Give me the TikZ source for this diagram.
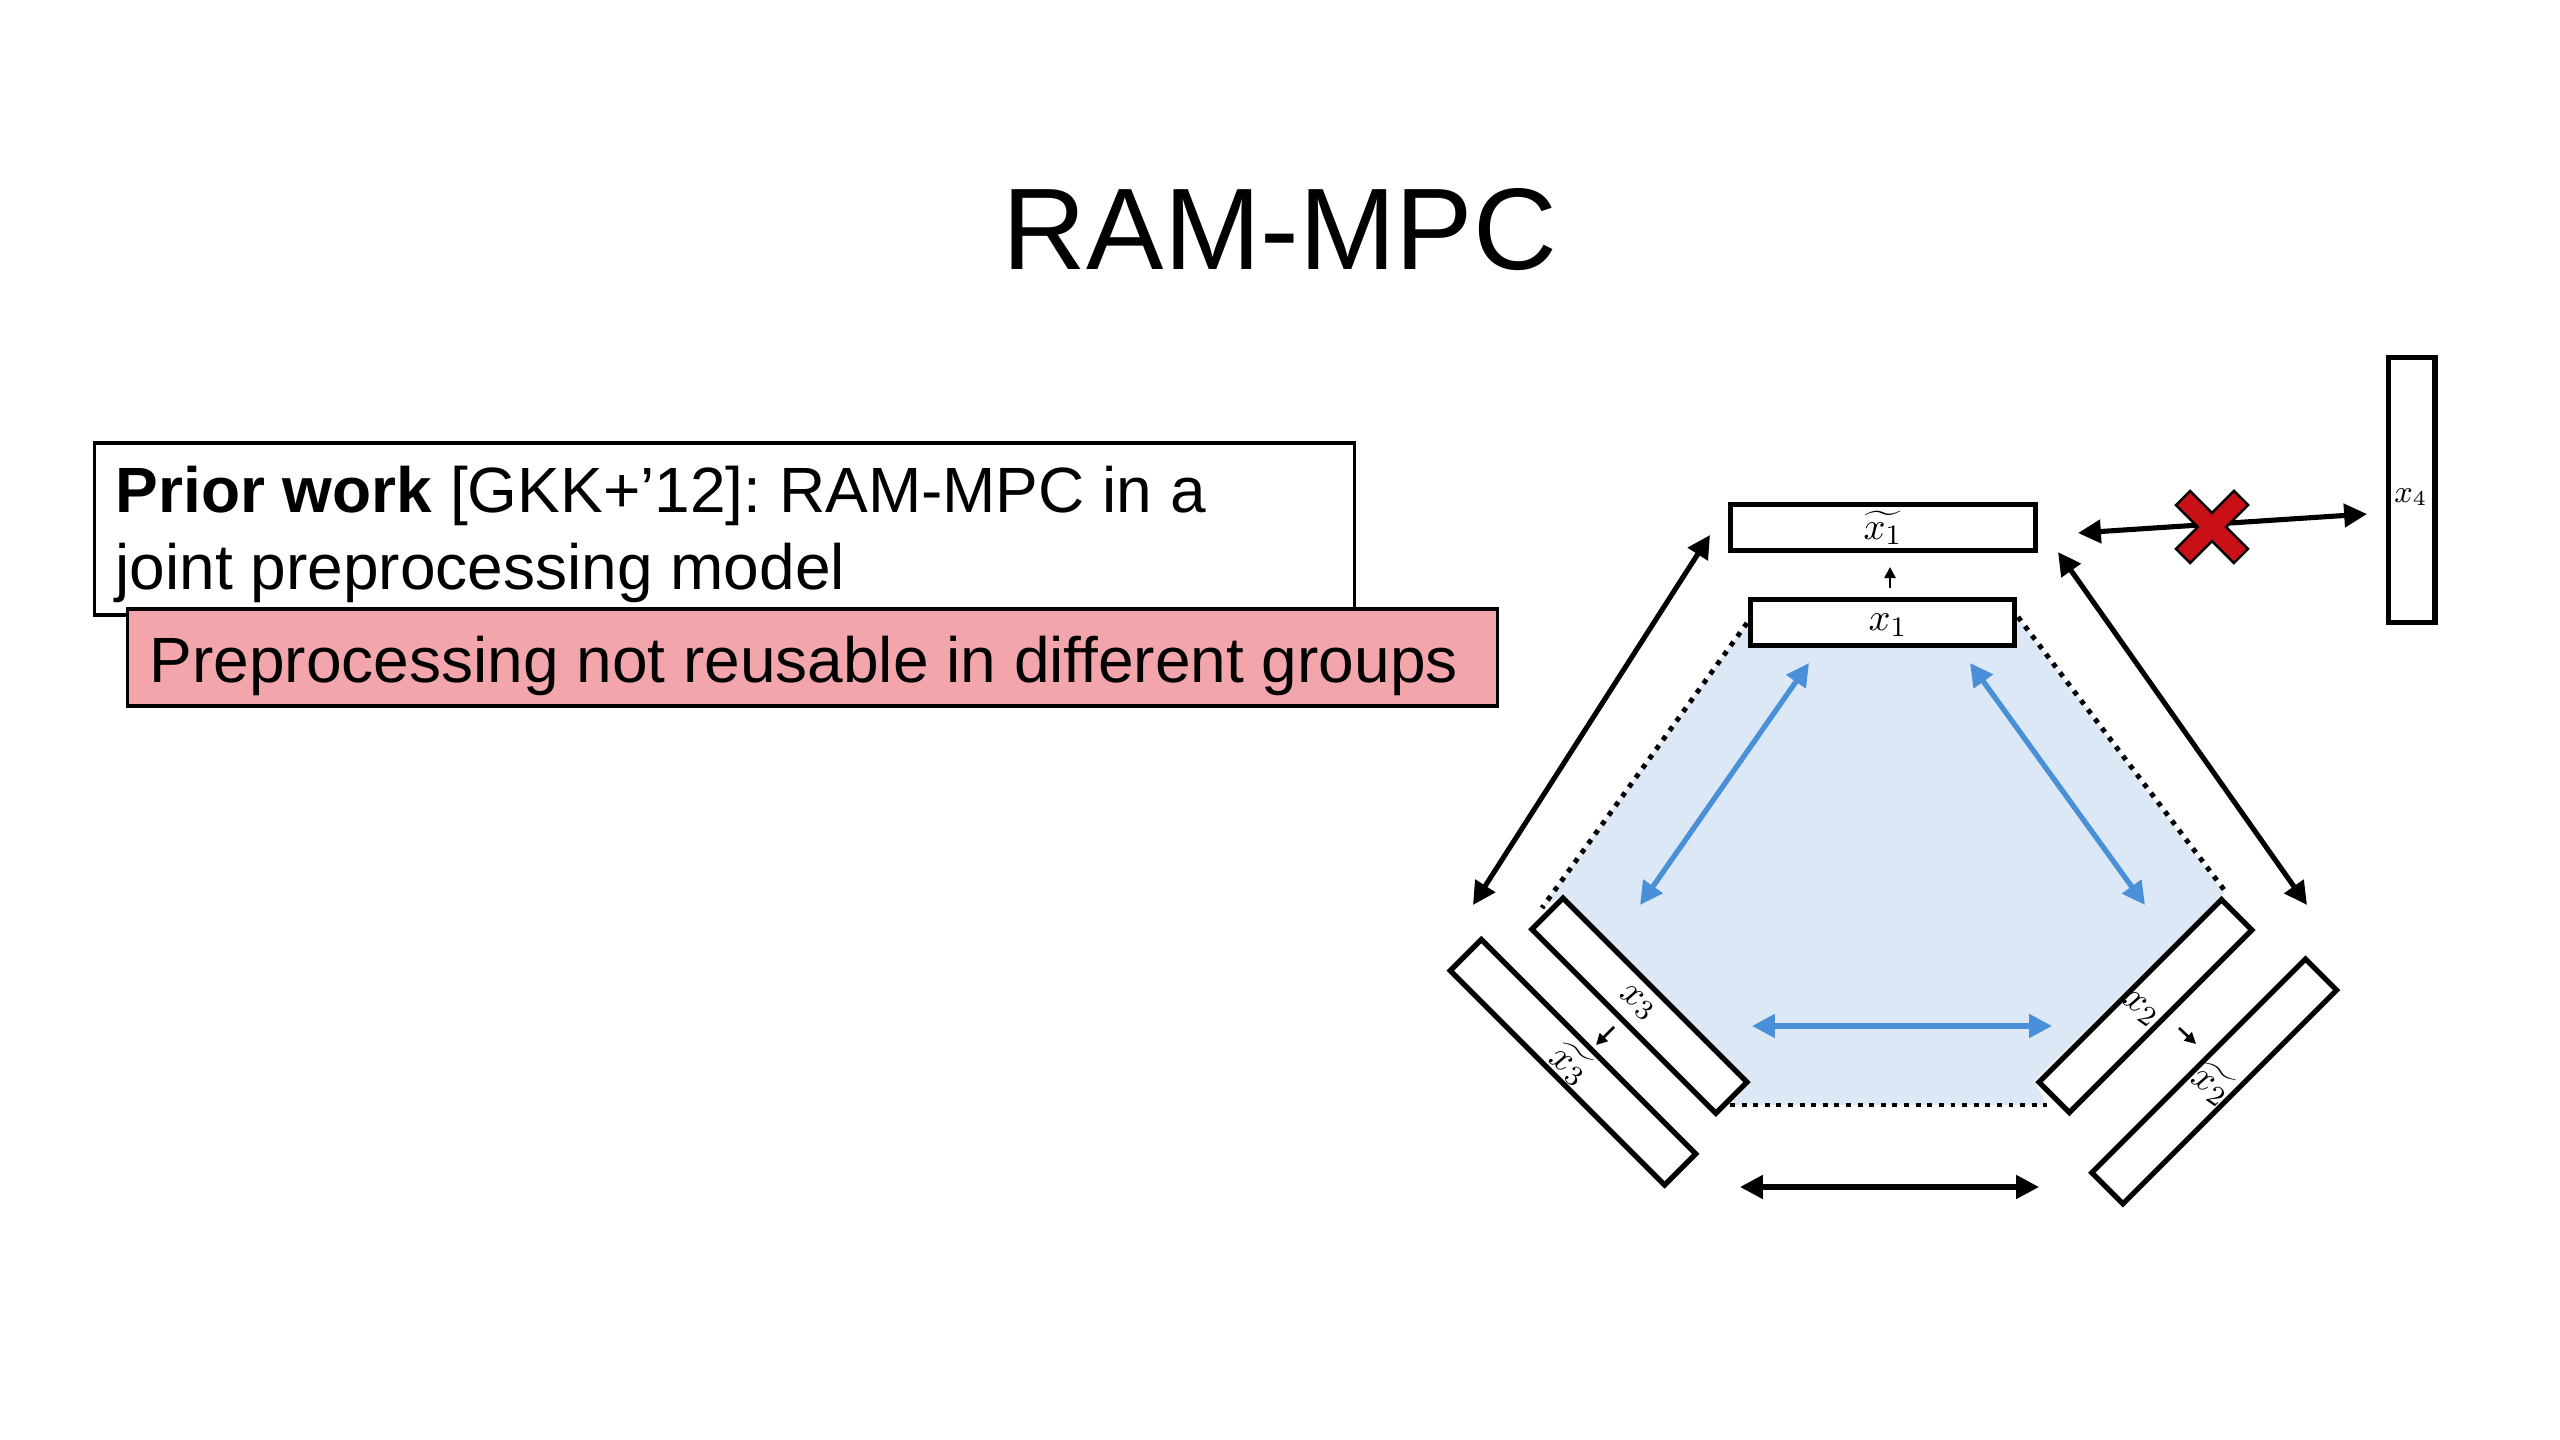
\documentclass[tikz,border=0pt]{standalone}
\usepackage{fontspec}
\setmainfont{Liberation Sans}
\usetikzlibrary{arrows.meta}
\definecolor{hexblue}{RGB}{221,232,246}
\definecolor{arrowblue}{RGB}{74,144,217}
\definecolor{warnpink}{RGB}{242,166,172}
\definecolor{crossred}{RGB}{200,16,22}
\begin{document}
\begin{tikzpicture}[x=0.01cm,y=-0.01cm,
  databox/.style={draw, line width=1.5pt, fill=white, inner sep=0pt},
  txtbox/.style={draw, line width=0.9pt, inner sep=0pt},
  blk/.style={line width=1.45pt, {Triangle[length=6.5pt,width=6.5pt]}-{Triangle[length=6.5pt,width=6.5pt]}},
  blu/.style={draw=arrowblue, line width=1.5pt, {Triangle[length=6.5pt,width=6.5pt,fill=arrowblue]}-{Triangle[length=6.5pt,width=6.5pt,fill=arrowblue]}},
  small/.style={line width=0.75pt, -{Triangle[length=3.2pt,width=3.2pt]}},
  dots/.style={line width=1.4pt, dash pattern=on 1.4pt off 1.9pt},
  lbl/.style={inner sep=0pt, font=\fontsize{11}{13}\selectfont},
  body/.style={inner sep=0pt, anchor=base west, font=\fontsize{18.2}{22}\selectfont\frenchspacing},
]
\useasboundingbox (0,0) rectangle (2560,1440);

% title
\node[anchor=base, inner sep=0pt, font=\fontsize{33}{40}\selectfont] (title) at (1280,270) {RAM-MPC};

% text boxes
\node[txtbox, fill=white, minimum width=12.59cm, minimum height=1.72cm] (prior) at (724.5,529) {};
\node[body] (priorA) at (115,513) {\textbf{Prior work} [GKK+’12]: RAM-MPC in a};
\node[body] (priorB) at (115,590) {joint preprocessing model};
\node[txtbox, fill=warnpink, minimum width=13.69cm, minimum height=0.97cm] (warn) at (812.5,657.5) {};
\node[body] (warntxt) at (149,683) {Preprocessing not reusable in different groups};

% shaded hexagon
\fill[hexblue] (1747,623) -- (2018,618) -- (2224,893) -- (2034,1081) -- (2047,1105)
  -- (1730,1105) -- (1751,1082) -- (1563,895) -- (1542,908) -- cycle;

% dotted edges
\coordinate (dl1) at (1747,623); \coordinate (dl2) at (1542,908);
\coordinate (dr1) at (2018,617); \coordinate (dr2) at (2225,891);
\coordinate (db1) at (1730,1105); \coordinate (db2) at (2047,1105);
\draw[dots] (dl1) -- (dl2);
\draw[dots] (dr1) -- (dr2);
\draw[dots] (db1) -- (db2);

% blue arrows
\coordinate (bl1) at (1809,663); \coordinate (bl2) at (1640,905);
\coordinate (br1) at (1970,663); \coordinate (br2) at (2145,905);
\coordinate (bb1) at (1752,1026); \coordinate (bb2) at (2052,1026);
\draw[blu] (bl1) -- (bl2);
\draw[blu] (br1) -- (br2);
\draw[blu] (bb1) -- (bb2);

% data boxes
\node[databox, minimum width=3.05cm, minimum height=0.46cm] (t1) at (1883,527.5) {};
\node[databox, minimum width=2.64cm, minimum height=0.46cm] (b1) at (1882.5,622.5) {};
\node[databox, minimum width=0.465cm, minimum height=2.65cm] (b4) at (2411.75,490) {};
\node[databox, minimum width=2.60cm, minimum height=0.44cm, rotate=-45] (b3) at (1639.4,1005.7) {};
\node[databox, minimum width=3.03cm, minimum height=0.44cm, rotate=-45] (t3) at (1573,1062.2) {};
\node[databox, minimum width=2.58cm, minimum height=0.43cm, rotate=45] (b2) at (2145.4,1006.1) {};
\node[databox, minimum width=3.02cm, minimum height=0.44cm, rotate=45] (t2) at (2214.2,1081.4) {};

% labels
\node[lbl] (lt1) at (1883,528) {$\widetilde{x_1}$};
\node[lbl] (lb1) at (1888,625) {$x_1$};
\node[lbl, font=\fontsize{9}{11}\selectfont] (lb4) at (2411,497) {$x_4$};
\node[lbl, rotate=-35] (lb3) at (1637,1003) {$x_3$};
\node[lbl, rotate=-35] (lt3) at (1570,1064) {$\widetilde{x_3}$};
\node[lbl, rotate=-35] (lb2) at (2140,1009) {$x_2$};
\node[lbl, rotate=-35] (lt2) at (2212,1084) {$\widetilde{x_2}$};

% small arrows
\coordinate (s1a) at (1890,588); \coordinate (s1b) at (1890,567);
\coordinate (s3a) at (1614,1027); \coordinate (s3b) at (1596,1045);
\coordinate (s2a) at (2179,1028); \coordinate (s2b) at (2196,1044);
\draw[small] (s1a) -- (s1b);
\draw[small] (s3a) -- (s3b);
\draw[small] (s2a) -- (s2b);

% black arrows
\coordinate (kl1) at (1710,535); \coordinate (kl2) at (1473,905);
\coordinate (kr1) at (2058,552); \coordinate (kr2) at (2307,905);
\coordinate (kb1) at (1740,1187); \coordinate (kb2) at (2039,1187);
\coordinate (k41) at (2078,533); \coordinate (k42) at (2367,514);
\draw[blk] (kl1) -- (kl2);
\draw[blk] (kr1) -- (kr2);
\draw[blk] (kb1) -- (kb2);
\draw[blk] (k41) -- (k42);

% red cross
\coordinate (xmark) at (2212,527);
\draw[fill=crossred, line width=0.7pt, shift={(xmark)}, rotate=45]
  (10,10) -- (41,10) -- (41,-10) -- (10,-10) -- (10,-41) -- (-10,-41) -- (-10,-10)
  -- (-41,-10) -- (-41,10) -- (-10,10) -- (-10,41) -- (10,41) -- cycle;
\end{tikzpicture}
\end{document}
